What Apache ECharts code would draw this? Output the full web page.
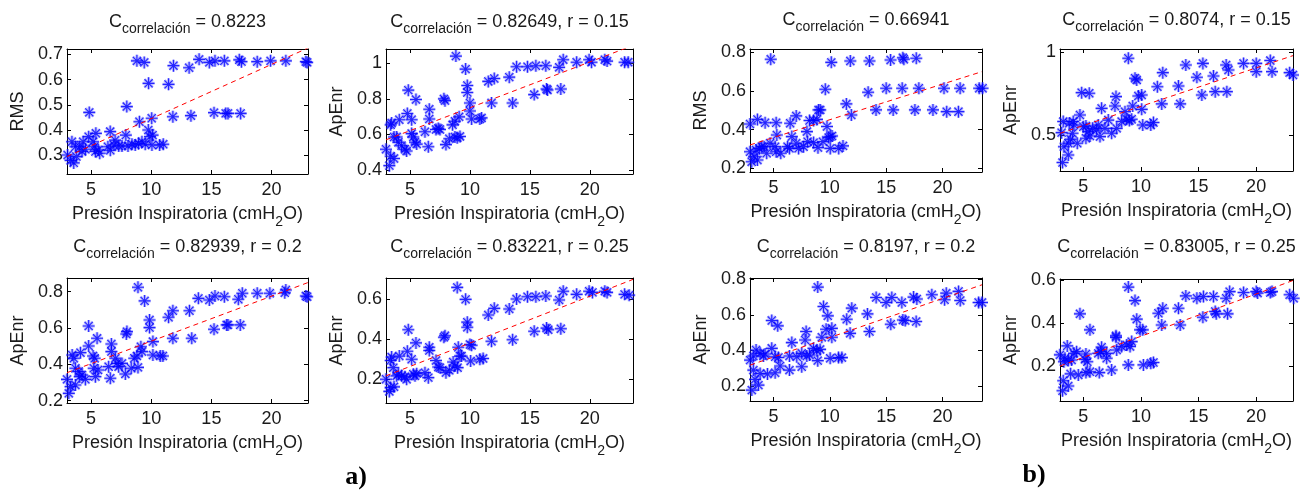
<!DOCTYPE html>
<html><head><meta charset="utf-8">
<script src="https://cdn.jsdelivr.net/npm/echarts@6/dist/echarts.min.js"></script>
<style>html,body{margin:0;padding:0;background:#fff}#c{width:1306px;height:490px}</style>
</head><body><div id="c"></div>
<script>
// ---------- data ----------
const xTickValues = [5, 10, 15, 20];
const titleValues = [' = 0.8223', ' = 0.82649, r = 0.15', ' = 0.82939, r = 0.2', ' = 0.83221, r = 0.25',
                     ' = 0.66941', ' = 0.8074, r = 0.15', ' = 0.8197, r = 0.2', ' = 0.83005, r = 0.25'];
const yNames = ['RMS', 'ApEnr', 'ApEnr', 'ApEnr', 'RMS', 'ApEnr', 'ApEnr', 'ApEnr'];
const yTickValues = [[0.3,0.4,0.5,0.6,0.7],[0.4,0.6,0.8,1],[0.2,0.4,0.6,0.8],[0.2,0.4,0.6],
                     [0.2,0.4,0.6,0.8],[0.5,1],[0.2,0.4,0.6,0.8],[0.2,0.4,0.6]];
const yRanges = [[0.226,0.721],[0.378,1.08],[0.187,0.875],[0.081,0.707],
                 [0.181,0.817],[0.282,1.02],[0.117,0.806],[0.036,0.607]];
const xRanges = [[3,23.03],[3,23.6],[3,23.03],[3,23.6],[2.92,23.5],[2.98,23.2],[2.92,23.5],[2.98,23.2]];

const a1Points = [[8.81,0.674],[9.42,0.668],[9.78,0.585],[11.44,0.581],[11.85,0.655],[11.8,0.453],[13.15,0.647],[13.3,0.457],[13.98,0.68],[14.83,0.668],[15.3,0.674],[15.22,0.469],[16.08,0.674],[16.19,0.466],[16.38,0.466],[17.32,0.678],[17.5,0.671],[17.43,0.466],[18.81,0.671],[19.92,0.674],[21.19,0.674],[22.85,0.671],[22.96,0.668],
[4.85,0.47],[7.97,0.493],[9.02,0.433],[10.04,0.447],[9.76,0.40],[9.9,0.374],[10.11,0.38],[6.59,0.394],[5.4,0.387],[4.8,0.374],[7.89,0.38],[3.41,0.354],[3.7,0.334],[4.06,0.334],[4.25,0.315],[4.53,0.324],[3.05,0.301],[3.3,0.28],[3.56,0.27],[3.78,0.295],[5.17,0.354],[5.28,0.334],[5.36,0.315],[5.6,0.321],[5.72,0.308],[6.4,0.334],[6.6,0.32],[7.0,0.36],[6.9,0.341],[7.3,0.337],[7.57,0.337],[8.07,0.337],[8.4,0.344],[8.67,0.341],[8.95,0.347],[9.23,0.354],[9.5,0.344],[10.06,0.341],[10.7,0.341],[11.0,0.344],[4.34,0.354]];
const a2Points = [[8.83,1.04],[9.64,0.967],[9.78,0.875],[9.78,0.836],[10.0,0.777],[10.0,0.732],[10.14,0.687],[10.83,0.687],[10.97,0.693],[11.53,0.898],[12.03,0.914],[11.8,0.777],[13.28,0.922],[13.56,0.777],[13.89,0.98],[14.8,0.98],[15.5,0.986],[16.33,0.986],[17.44,0.977],[17.78,1.02],[18.9,1.006],[19.94,1.02],[20.14,1.006],[21.25,1.02],[21.44,1.012],[22.9,1.006],[23.2,1.006],[15.36,0.824],[16.39,0.855],[16.47,0.85],[17.58,0.855],
[3.28,0.425],[3.0,0.517],[3.39,0.478],[3.67,0.465],[3.39,0.654],[3.47,0.664],[3.67,0.586],[4.11,0.683],[3.89,0.586],[4.03,0.556],[4.3,0.537],[4.58,0.517],[4.72,0.507],[4.78,0.718],[4.86,0.849],[5.14,0.683],[5.14,0.605],[5.28,0.586],[5.42,0.556],[5.5,0.796],[5.56,0.546],[6.25,0.615],[6.53,0.531],[6.61,0.742],[6.61,0.687],[7.17,0.628],[7.36,0.634],[7.5,0.628],[7.83,0.8],[7.92,0.79],[8.0,0.543],[8.28,0.576],[8.55,0.654],[8.75,0.674],[8.94,0.582],[9.1,0.699],[9.17,0.589],[8.75,0.586]];
const a3Points = [[8.9,0.824],[9.45,0.749],[9.86,0.644],[9.86,0.602],[4.8,0.611],[5.5,0.543],[4.8,0.501],[4.12,0.464],[3.43,0.451],[3.57,0.433],[3.0,0.317],[3.3,0.277],[3.15,0.24],[3.7,0.286],[3.7,0.378],[3.98,0.36],[4.06,0.332],[4.25,0.341],[4.53,0.317],[5.17,0.446],[5.3,0.433],[5.22,0.378],[5.36,0.332],[5.58,0.369],[6.46,0.387],[6.6,0.323],[6.69,0.512],[6.69,0.47],[7.02,0.433],[7.15,0.405],[7.29,0.387],[7.57,0.405],[7.93,0.567],[7.98,0.58],[7.85,0.347],[8.34,0.378],[8.59,0.433],[8.81,0.446],[8.9,0.383],[9.14,0.497],[9.23,0.47],[10.14,0.525],[10.14,0.451],[10.75,0.446],[10.97,0.446],[11.44,0.659],[11.8,0.695],[11.8,0.543],[13.18,0.695],[13.37,0.543],[13.92,0.763],[14.83,0.754],[15.3,0.776],[15.22,0.593],[16.08,0.772],[17.24,0.758],[17.57,0.791],[18.81,0.791],[19.86,0.791],[21.1,0.794],[21.19,0.809],[22.85,0.776],[22.96,0.772],[16.27,0.617],[16.38,0.617],[17.4,0.617]];
const a4Points = [[8.94,0.66],[9.64,0.6],[9.78,0.486],[9.78,0.46],[10.0,0.374],[10.06,0.291],[10.83,0.3],[11.1,0.304],[11.53,0.522],[12.03,0.555],[11.8,0.39],[13.28,0.552],[13.56,0.398],[13.89,0.602],[14.8,0.613],[15.5,0.613],[16.33,0.617],[17.44,0.597],[17.78,0.641],[18.9,0.625],[19.94,0.641],[20.22,0.635],[21.25,0.641],[21.44,0.635],[22.9,0.625],[23.28,0.621],[15.36,0.44],[16.39,0.456],[16.53,0.448],[17.58,0.453],
[7.92,0.418],[7.83,0.41],[9.03,0.36],[9.17,0.316],[8.6,0.286],[8.75,0.266],[8.97,0.258],[10.14,0.37],[3.0,0.2],[3.28,0.139],[3.39,0.159],[3.67,0.162],[3.39,0.294],[3.47,0.311],[3.61,0.258],[4.11,0.316],[3.89,0.217],[4.03,0.225],[4.3,0.217],[4.58,0.212],[4.72,0.2],[4.78,0.34],[4.86,0.448],[5.14,0.3],[5.28,0.225],[5.42,0.217],[5.5,0.382],[5.56,0.228],[6.25,0.233],[6.53,0.208],[6.61,0.36],[6.61,0.344],[7.17,0.294],[7.36,0.261],[7.5,0.258],[8.0,0.233],[8.28,0.245],[9.3,0.316]];
const b1Points = [[4.76,0.764],[10.13,0.748],[11.82,0.755],[13.52,0.755],[15.39,0.76],[16.48,0.772],[16.57,0.764],[17.67,0.769],[9.6,0.609],[11.47,0.533],[11.91,0.476],[13.4,0.593],[14.1,0.502],[15.0,0.614],[15.62,0.502],[16.42,0.614],[17.55,0.502],[17.9,0.614],[19.15,0.502],[20.13,0.614],[20.37,0.493],[21.56,0.614],[21.41,0.493],[23.25,0.614],[23.55,0.614],
[2.92,0.429],[3.58,0.453],[4.26,0.436],[5.24,0.436],[6.48,0.433],[7.02,0.471],[8.2,0.447],[7.97,0.39],[8.56,0.447],[8.86,0.453],[9.0,0.502],[9.15,0.502],[9.75,0.416],[10.04,0.364],[9.9,0.359],[5.3,0.372],[6.63,0.364],[2.92,0.286],[3.07,0.234],[3.28,0.26],[3.58,0.243],[3.46,0.295],[3.75,0.303],[3.96,0.312],[4.17,0.312],[4.4,0.278],[4.7,0.33],[5.15,0.312],[5.24,0.286],[5.65,0.278],[6.25,0.312],[6.42,0.303],[7.02,0.33],[7.23,0.303],[7.67,0.312],[8.03,0.338],[8.56,0.333],[8.95,0.307],[9.39,0.338],[10.04,0.303],[10.79,0.303],[11.17,0.316],[10.2,0.367]];
const b2Points = [[8.91,0.964],[9.49,0.843],[9.64,0.833],[9.78,0.736],[10.07,0.742],[10.07,0.655],[9.29,0.675],[11.9,0.877],[11.43,0.792],[11.81,0.688],[13.26,0.796],[13.41,0.688],[13.9,0.923],[14.86,0.849],[15.38,0.933],[15.29,0.742],[16.3,0.857],[16.45,0.762],[17.4,0.923],[17.6,0.893],[17.46,0.762],[18.91,0.933],[20.01,0.933],[20.01,0.883],[21.23,0.95],[21.38,0.883],[22.91,0.877],[23.2,0.863],
[4.86,0.756],[5.52,0.752],[6.59,0.661],[4.71,0.621],[7.84,0.732],[7.75,0.675],[8.62,0.641],[3.12,0.514],[3.26,0.581],[3.78,0.571],[4.13,0.581],[4.19,0.56],[3.2,0.333],[3.32,0.429],[3.7,0.379],[3.7,0.45],[3.9,0.474],[4.07,0.51],[4.48,0.45],[5.0,0.55],[5.23,0.554],[5.23,0.48],[5.43,0.52],[5.58,0.494],[6.16,0.53],[6.3,0.56],[6.45,0.49],[6.88,0.54],[7.46,0.51],[7.9,0.54],[8.33,0.581],[8.77,0.595],[9.0,0.587],[9.2,0.595],[10.16,0.56],[10.86,0.56],[11.09,0.575],[7.17,0.59],[5.81,0.54]];
const b3Points = [[8.93,0.755],[9.44,0.646],[9.82,0.594],[4.85,0.568],[5.38,0.538],[7.9,0.506],[7.81,0.459],[9.29,0.474],[9.67,0.519],[10.18,0.524],[10.18,0.474],[11.5,0.575],[11.95,0.637],[11.8,0.496],[13.34,0.605],[13.52,0.506],[14.11,0.697],[14.99,0.669],[15.5,0.697],[15.41,0.547],[16.39,0.669],[16.48,0.571],[16.69,0.568],[17.43,0.699],[17.72,0.688],[17.66,0.562],[19.05,0.712],[20.18,0.684],[20.33,0.721],[21.42,0.731],[21.57,0.68],[23.2,0.669],[23.5,0.669],
[2.93,0.346],[3.46,0.403],[3.22,0.369],[3.82,0.384],[4.11,0.369],[4.26,0.38],[4.85,0.412],[5.15,0.365],[5.44,0.361],[6.42,0.369],[6.63,0.444],[7.07,0.365],[7.51,0.309],[6.42,0.29],[5.59,0.313],[5.15,0.275],[4.47,0.268],[3.22,0.29],[3.08,0.178],[3.37,0.238],[3.67,0.206],[3.82,0.271],[7.96,0.369],[8.55,0.412],[8.85,0.399],[9.14,0.406],[8.93,0.343],[10.03,0.356],[10.77,0.36],[11.07,0.36],[7.51,0.384],[8.2,0.375]];
const b4Points = [[8.91,0.569],[9.49,0.506],[9.64,0.419],[9.93,0.369],[10.16,0.369],[4.71,0.444],[5.58,0.369],[7.84,0.341],[7.84,0.334],[11.52,0.447],[11.9,0.47],[11.81,0.392],[13.26,0.47],[13.41,0.392],[13.9,0.528],[14.86,0.517],[15.43,0.525],[15.38,0.428],[16.3,0.525],[16.45,0.455],[16.54,0.444],[17.4,0.517],[17.7,0.548],[17.52,0.444],[18.91,0.544],[20.01,0.548],[20.13,0.541],[21.23,0.544],[21.38,0.548],[22.91,0.533],[23.26,0.517],
[2.97,0.252],[3.61,0.294],[3.41,0.236],[3.32,0.22],[3.7,0.225],[3.99,0.228],[4.19,0.259],[4.42,0.267],[5.23,0.256],[5.35,0.22],[5.14,0.231],[6.3,0.259],[6.51,0.267],[6.59,0.288],[7.03,0.236],[7.03,0.259],[7.9,0.275],[8.33,0.291],[8.77,0.298],[9.06,0.291],[9.2,0.314],[8.91,0.205],[10.22,0.205],[10.86,0.213],[11.09,0.216],[3.2,0.084],[3.26,0.131],[3.7,0.106],[3.9,0.163],[4.57,0.158],[5.23,0.169],[5.58,0.173],[6.39,0.169],[7.46,0.181]];

const a1Fit = [[3,0.295],[23.03,0.725]];
const a2Fit = [[3,0.57],[23.6,1.1]];
const a3Fit = [[3,0.354],[23.03,0.85]];
const a4Fit = [[3,0.217],[23.6,0.70]];
const b1Fit = [[2.92,0.321],[23.5,0.70]];
const b2Fit = [[2.98,0.51],[23.2,0.98]];
const b3Fit = [[2.93,0.318],[23.5,0.768]];
const b4Fit = [[2.98,0.2],[23.2,0.6]];

const pointSets = [a1Points, a2Points, a3Points, a4Points, b1Points, b2Points, b3Points, b4Points];
const fitSets = [a1Fit, a2Fit, a3Fit, a4Fit, b1Fit, b2Fit, b3Fit, b4Fit];

// ---------- layout ----------
const grids = [
  {left: 67, top: 49, width: 241, height: 125},
  {left: 386, top: 49, width: 247, height: 125},
  {left: 67, top: 278, width: 241, height: 125},
  {left: 386, top: 278, width: 247, height: 125},
  {left: 750, top: 49, width: 232, height: 123},
  {left: 1060, top: 49, width: 233, height: 122},
  {left: 750, top: 278, width: 232, height: 123},
  {left: 1060, top: 279, width: 233, height: 122}
];
const FONT = 'Liberation Sans';
const TXT = '#1a1a1a';
const STAR = 'path://M5 0L5 10M0 5L10 5M1.6 1.6L8.4 8.4M1.6 8.4L8.4 1.6';

const xAxes = [], yAxes = [], series = [], titles = [];
grids.forEach((g, i) => {
  const tickStyle = {show: true, inside: true, length: 4, lineStyle: {color: '#000', width: 1}};
  const lineStyle = {show: true, onZero: false, lineStyle: {color: '#000', width: 1}};
  xAxes.push({
    type: 'value', gridIndex: i, position: 'bottom', min: xRanges[i][0], max: xRanges[i][1],
    axisLine: lineStyle, splitLine: {show: false},
    axisTick: Object.assign({customValues: xTickValues}, tickStyle),
    axisLabel: {customValues: xTickValues, fontFamily: FONT, fontSize: 18, color: TXT, margin: 7},
    name: '{m|Presión Inspiratoria (cmH}{s|2}{m|O)}', nameLocation: 'middle', nameGap: 25,
    nameTextStyle: {rich: {m: {fontFamily: FONT, fontSize: 18, color: TXT, lineHeight: 20},
                           s: {fontFamily: FONT, fontSize: 14, color: TXT, padding: [16, 0, 0, 0]}}}
  });
  xAxes.push({
    type: 'value', gridIndex: i, position: 'top', min: xRanges[i][0], max: xRanges[i][1],
    axisLine: lineStyle, splitLine: {show: false},
    axisTick: Object.assign({customValues: xTickValues}, tickStyle),
    axisLabel: {show: false}
  });
  yAxes.push({
    type: 'value', gridIndex: i, position: 'left', min: yRanges[i][0], max: yRanges[i][1],
    axisLine: lineStyle, splitLine: {show: false},
    axisTick: Object.assign({customValues: yTickValues[i]}, tickStyle),
    axisLabel: {customValues: yTickValues[i], fontFamily: FONT, fontSize: 18, color: TXT, margin: 4},
    name: yNames[i], nameLocation: 'middle', nameGap: 40,
    nameTextStyle: {fontFamily: FONT, fontSize: 18, color: TXT}
  });
  yAxes.push({
    type: 'value', gridIndex: i, position: 'right', min: yRanges[i][0], max: yRanges[i][1],
    axisLine: lineStyle, splitLine: {show: false},
    axisTick: Object.assign({customValues: yTickValues[i]}, tickStyle),
    axisLabel: {show: false}
  });
  series.push({
    type: 'scatter', xAxisIndex: 2 * i, yAxisIndex: 2 * i, data: pointSets[i], clip: false, silent: true,
    symbol: STAR, symbolSize: 12,
    itemStyle: {color: 'transparent', borderColor: 'rgba(70,70,255,0.5)', borderWidth: 3}
  });
  series.push({
    type: 'scatter', xAxisIndex: 2 * i, yAxisIndex: 2 * i, data: pointSets[i], clip: false, silent: true,
    symbol: STAR, symbolSize: 12,
    itemStyle: {color: 'transparent', borderColor: '#0000ff', borderWidth: 1.1}
  });
  series.push({
    type: 'line', xAxisIndex: 2 * i, yAxisIndex: 2 * i, data: fitSets[i], symbol: 'none', clip: true, silent: true,
    lineStyle: {color: '#ff0000', width: 1, type: [5, 4]}, z: 5
  });
  titles.push({
    text: '{c|C}{s|correlación}{c|' + titleValues[i] + '}',
    left: g.left + g.width / 2, textAlign: 'center', top: (i % 4 < 2) ? (i < 4 ? 8 : 6) : 233, padding: 0,
    textStyle: {fontWeight: 'normal',
                rich: {c: {fontFamily: FONT, fontSize: 18, fontWeight: 'normal', color: TXT, lineHeight: 20},
                       s: {fontFamily: FONT, fontSize: 14, fontWeight: 'normal', color: TXT, padding: [14, 0, 0, 0]}}}
  });
});

const chart = echarts.init(document.getElementById('c'), null, {renderer: 'canvas'});
chart.setOption({
  animation: false,
  backgroundColor: '#fff',
  title: titles,
  grid: grids,
  xAxis: xAxes,
  yAxis: yAxes,
  series: series,
  graphic: [
    {type: 'text', x: 356, y: 477, style: {text: 'a)', font: 'bold 26px "Liberation Serif"', fill: '#000', align: 'center', verticalAlign: 'middle'}},
    {type: 'text', x: 1034, y: 475, style: {text: 'b)', font: 'bold 26px "Liberation Serif"', fill: '#000', align: 'center', verticalAlign: 'middle'}}
  ]
});
</script>
</body></html>
